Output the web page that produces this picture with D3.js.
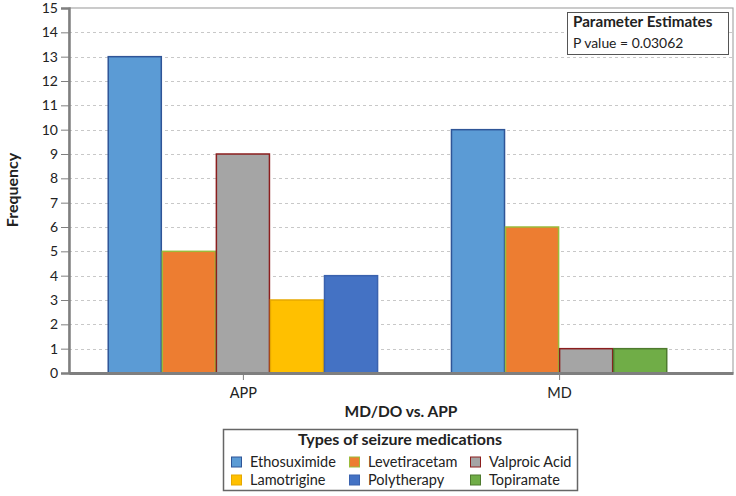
<!DOCTYPE html>
<html><head><meta charset="utf-8">
<script src="https://cdn.jsdelivr.net/npm/d3@7"></script>
<style>body{margin:0;background:#fff}svg{display:block}text{font-family:Lato,"Open Sans",sans-serif;fill:#222}</style>
</head><body><svg id="c" width="736" height="496"></svg>
<script>
const groups = ["APP", "MD"];
const medications = ["Ethosuximide", "Levetiracetam", "Valproic Acid", "Lamotrigine", "Polytherapy", "Topiramate"];
const appValues = [13, 5, 9, 3, 4, 0];
const mdValues = [10, 6, 1, 0, 0, 1];
const yTicks = [0,1,2,3,4,5,6,7,8,9,10,11,12,13,14,15];
const fills = ["#5B9BD5", "#ED7D31", "#A5A5A5", "#FFC000", "#4472C4", "#70AD47"];
const strokes = ["#2F5597", "#9BBB3B", "#8B1E1E", "#E6A800", "#3A62AE", "#4E7A2E"];
const pValue = "0.03062";

const svg = d3.select("#c");
const L = 69, R = 733, T = 8, B = 373;
const y = d3.scaleLinear().domain([0, 15]).range([B, T]);
const x = d3.scalePoint().domain(groups).range([L, R]).padding(0.55);
const barW = x.step() * 0.171;

// frame
svg.append("rect").attr("x", L).attr("y", T).attr("width", R - L).attr("height", B - T)
  .attr("fill", "none").attr("stroke", "#a8a8a8").attr("stroke-width", 1.2);
// grid
svg.append("g").selectAll("line").data(yTicks.filter(d => d > 0 && d < 15)).join("line")
  .attr("x1", L).attr("x2", R).attr("y1", d => Math.round(y(d)) + 0.5).attr("y2", d => Math.round(y(d)) + 0.5)
  .attr("stroke", "#c8c8c8").attr("stroke-dasharray", "3,3");

// bars
const data = [];
[appValues, mdValues].forEach((vals, gi) => {
  const items = vals.map((v, i) => ({ v, i })).filter(d => d.v > 0);
  const start = x(groups[gi]) - items.length * barW / 2;
  items.forEach((d, k) => data.push({ g: groups[gi], v: d.v, i: d.i, x0: start + k * barW }));
});
svg.append("g").selectAll("rect").data(data).join("rect")
  .attr("x", d => d.x0 + 0.5).attr("y", d => y(d.v))
  .attr("width", barW - 1).attr("height", d => y(0) - y(d.v))
  .attr("fill", d => fills[d.i]).attr("stroke", d => strokes[d.i]).attr("stroke-width", 1.5);

// y axis
const yAxis = svg.append("g").attr("transform", `translate(${L},0)`)
  .call(d3.axisLeft(y).tickValues(yTicks).tickSize(8).tickPadding(3));
yAxis.select(".domain").attr("stroke", "#7f7f7f").attr("stroke-width", 2.5);
yAxis.selectAll(".tick line").attr("stroke", "#7f7f7f");
yAxis.selectAll(".tick text").attr("font-size", 14).attr("font-family", "Lato").attr("fill", "#222");

// x axis
const xAxis = svg.append("g").attr("transform", `translate(0,${B})`)
  .call(d3.axisBottom(x).tickSize(7).tickPadding(8).tickSizeOuter(0));
xAxis.select(".domain").attr("stroke", "#7f7f7f").attr("stroke-width", 3);
xAxis.selectAll(".tick line").attr("stroke", "#7f7f7f");
xAxis.selectAll(".tick text").attr("font-size", 14.5).attr("font-family", "Lato").attr("fill", "#222");

// titles
svg.append("text").attr("x", 401).attr("y", 417).attr("text-anchor", "middle")
  .attr("font-size", 15.5).attr("font-weight", "bold").text("MD/DO vs. APP");
svg.append("text").attr("transform", "translate(18,190) rotate(-90)").attr("text-anchor", "middle")
  .attr("font-size", 16).attr("font-weight", "bold").text("Frequency");

// parameter box
svg.append("rect").attr("x", 567.5).attr("y", 12.5).attr("width", 161).attr("height", 42)
  .attr("fill", "#fff").attr("stroke", "#555");
svg.append("text").attr("x", 573).attr("y", 27).attr("font-size", 15.2).attr("font-weight", "bold").text("Parameter Estimates");
svg.append("text").attr("x", 573).attr("y", 48).attr("font-size", 13.9).text("P value = " + pValue);

// legend
svg.append("rect").attr("x", 223.5).attr("y", 429.5).attr("width", 354).attr("height", 61)
  .attr("fill", "#fff").attr("stroke", "#666").attr("stroke-width", 1.5);
svg.append("text").attr("x", 400).attr("y", 445).attr("text-anchor", "middle")
  .attr("font-size", 16).attr("font-weight", "bold").text("Types of seizure medications");
const colX = [231, 349, 470];
const rowY = [462, 480];
const lg = svg.append("g").selectAll("g").data(medications).join("g")
  .attr("transform", (d, i) => `translate(${colX[i % 3]},${rowY[Math.floor(i / 3)]})`);
lg.append("rect").attr("x", 0.5).attr("y", -5).attr("width", 10).attr("height", 10)
  .attr("fill", (d, i) => fills[i]).attr("stroke", (d, i) => strokes[i]);
lg.append("text").attr("x", 19).attr("y", 5).attr("font-size", 14.5).text(d => d);
</script></body></html>
